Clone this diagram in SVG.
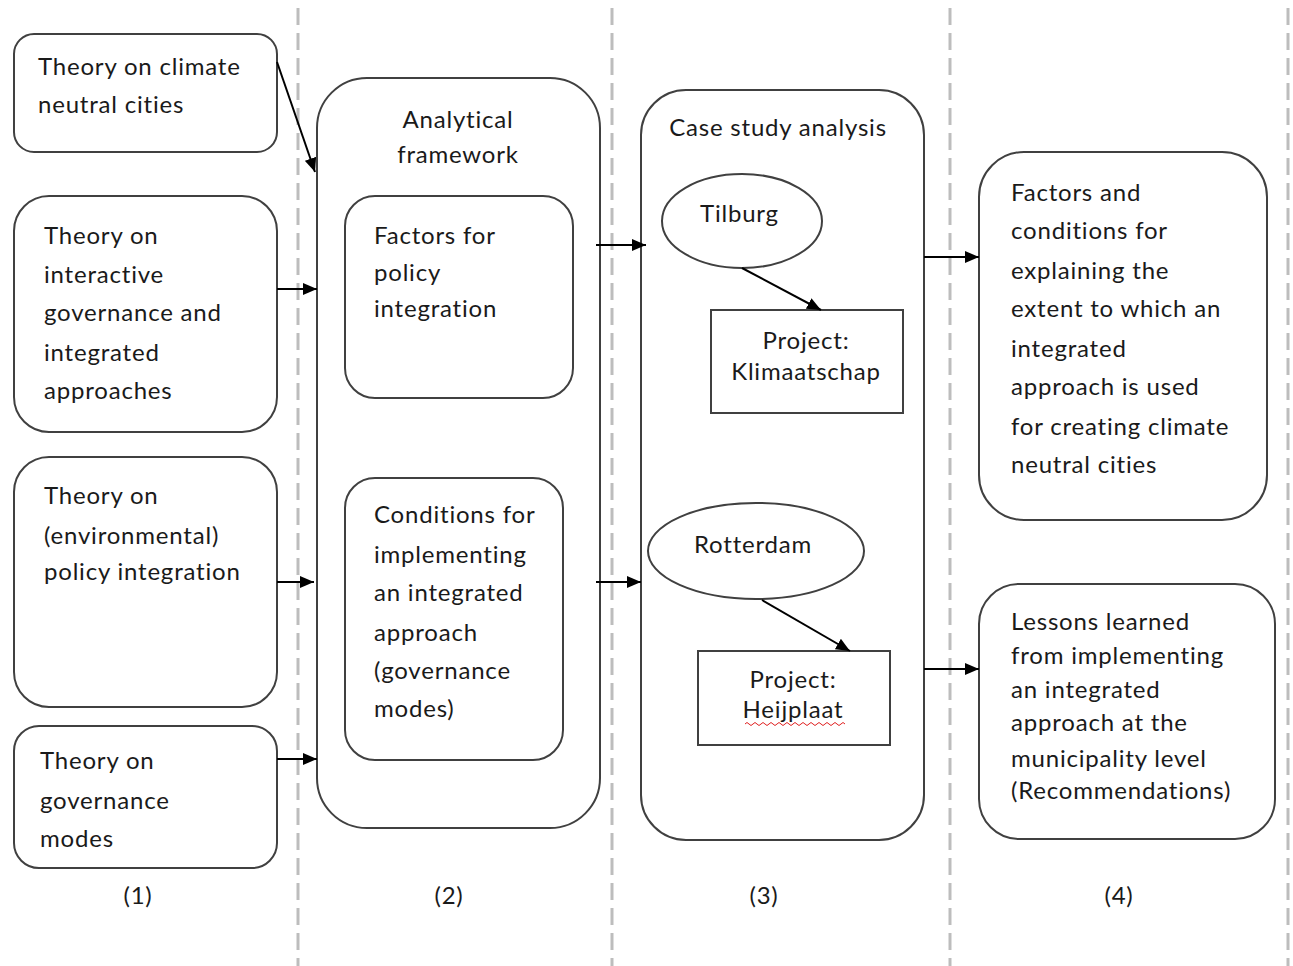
<svg xmlns="http://www.w3.org/2000/svg" width="1293" height="966" viewBox="0 0 1293 966">
<defs>
<style>
.box{fill:#fff;stroke:#404040;stroke-width:2}
.div{stroke:#bdbdbd;stroke-width:3;stroke-dasharray:17 8;fill:none}
.con{stroke:#000;stroke-width:2;fill:none;marker-end:url(#ah)}
text{font-family:Lato,"Liberation Sans",sans-serif;font-size:24px;letter-spacing:0.8px;fill:#1a1a1a}
.c{text-anchor:middle}
</style>
<marker id="ah" viewBox="0 0 14 12" refX="14" refY="6" markerWidth="14" markerHeight="12" markerUnits="userSpaceOnUse" orient="auto">
<path d="M0,0 L14,6 L0,12 z" fill="#000"/>
</marker>
</defs>
<rect width="1293" height="966" fill="#fff"/>
<g id="dividers">
<line class="div" x1="298" y1="8" x2="298" y2="966"/>
<line class="div" x1="612" y1="8" x2="612" y2="966"/>
<line class="div" x1="950" y1="8" x2="950" y2="966"/>
<line class="div" x1="1288" y1="8" x2="1288" y2="966"/>
</g>
<g id="n1">
<rect class="box" x="14" y="34" width="263" height="118" rx="20"/>
<text x="38" y="75">Theory on climate</text>
<text x="38" y="113">neutral cities</text>
</g>
<g id="n2">
<rect class="box" x="14" y="196" width="263" height="236" rx="35"/>
<text x="44" y="244">Theory on</text>
<text x="44" y="283">interactive</text>
<text x="44" y="321">governance and</text>
<text x="44" y="361">integrated</text>
<text x="44" y="399">approaches</text>
</g>
<g id="n3">
<rect class="box" x="14" y="457" width="263" height="250" rx="35"/>
<text x="44" y="504">Theory on</text>
<text x="44" y="544">(environmental)</text>
<text x="44" y="580">policy integration</text>
</g>
<g id="n4">
<rect class="box" x="14" y="726" width="263" height="142" rx="25"/>
<text x="40" y="769">Theory on</text>
<text x="40" y="809">governance</text>
<text x="40" y="847">modes</text>
</g>
<g id="n5">
<rect class="box" x="317" y="78" width="283" height="750" rx="50"/>
<text class="c" x="458" y="128">Analytical</text>
<text class="c" x="458" y="163">framework</text>
</g>
<g id="n6">
<rect class="box" x="345" y="196" width="228" height="202" rx="30"/>
<text x="374" y="244">Factors for</text>
<text x="374" y="281">policy</text>
<text x="374" y="317">integration</text>
</g>
<g id="n7">
<rect class="box" x="345" y="478" width="218" height="282" rx="30"/>
<text x="374" y="523">Conditions for</text>
<text x="374" y="563">implementing</text>
<text x="374" y="601">an integrated</text>
<text x="374" y="641">approach</text>
<text x="374" y="679">(governance</text>
<text x="374" y="717">modes)</text>
</g>
<g id="n8">
<rect class="box" x="641" y="90" width="283" height="750" rx="45"/>
<text class="c" x="778" y="136">Case study analysis</text>
</g>
<g id="n9">
<ellipse class="box" cx="742" cy="221" rx="80" ry="47"/>
<text x="700" y="222">Tilburg</text>
</g>
<g id="n10">
<rect class="box" x="711" y="310" width="192" height="103"/>
<text class="c" x="806" y="349">Project:</text>
<text class="c" x="806" y="380">Klimaatschap</text>
</g>
<g id="n11">
<ellipse class="box" cx="756" cy="551" rx="108" ry="48"/>
<text x="694" y="553">Rotterdam</text>
</g>
<g id="n12">
<rect class="box" x="698" y="651" width="192" height="94"/>
<text class="c" x="793" y="688">Project:</text>
<text class="c" x="793" y="718">Heijplaat</text>
<path d="M745,724 q2,-3 4,0 t4,0 t4,0 t4,0 t4,0 t4,0 t4,0 t4,0 t4,0 t4,0 t4,0 t4,0 t4,0 t4,0 t4,0 t4,0 t4,0 t4,0 t4,0 t4,0 t4,0 t4,0 t4,0 t4,0 t4,0" fill="none" stroke="#e02020" stroke-width="1"/>
</g>
<g id="n13">
<rect class="box" x="979" y="152" width="288" height="368" rx="45"/>
<text x="1011" y="201">Factors and</text>
<text x="1011" y="239">conditions for</text>
<text x="1011" y="279">explaining the</text>
<text x="1011" y="317">extent to which an</text>
<text x="1011" y="357">integrated</text>
<text x="1011" y="395">approach is used</text>
<text x="1011" y="435">for creating climate</text>
<text x="1011" y="473">neutral cities</text>
</g>
<g id="n14">
<rect class="box" x="979" y="584" width="296" height="255" rx="40"/>
<text x="1011" y="630">Lessons learned</text>
<text x="1011" y="664">from implementing</text>
<text x="1011" y="698">an integrated</text>
<text x="1011" y="731">approach at the</text>
<text x="1011" y="767">municipality level</text>
<text x="1011" y="799">(Recommendations)</text>
</g>
<g id="labels">
<text class="c" x="138" y="904">(1)</text>
<text class="c" x="449" y="904">(2)</text>
<text class="c" x="764" y="904">(3)</text>
<text class="c" x="1119" y="904">(4)</text>
</g>
<g id="connectors">
<line class="con" x1="277" y1="62" x2="315" y2="172"/>
<line class="con" x1="277" y1="289" x2="317" y2="289"/>
<line class="con" x1="277" y1="582" x2="314" y2="582"/>
<line class="con" x1="277" y1="759" x2="317" y2="759"/>
<line class="con" x1="596" y1="245" x2="646" y2="245"/>
<line class="con" x1="596" y1="582" x2="641" y2="582"/>
<line class="con" x1="742" y1="268" x2="821" y2="310"/>
<line class="con" x1="762" y1="600" x2="850" y2="651"/>
<line class="con" x1="924" y1="257" x2="979" y2="257"/>
<line class="con" x1="924" y1="669" x2="979" y2="669"/>
</g>
</svg>
